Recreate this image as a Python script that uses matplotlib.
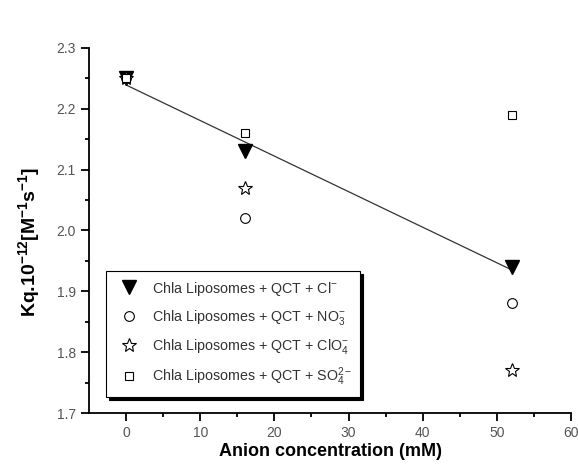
import matplotlib
matplotlib.use('Agg')
import matplotlib.pyplot as plt
import numpy as np

plt.rcParams['font.family'] = ['Liberation Sans', 'DejaVu Sans']
plt.rcParams['mathtext.fontset'] = 'custom'
plt.rcParams['mathtext.rm'] = 'Liberation Sans'
plt.rcParams['mathtext.it'] = 'Liberation Sans'
plt.rcParams['mathtext.bf'] = 'Liberation Sans:bold'

conc = [0, 16, 52]
kq_cl = [2.25, 2.13, 1.94]
kq_no3 = [2.25, 2.02, 1.88]
kq_clo4 = [2.25, 2.07, 1.77]
kq_so4 = [2.25, 2.16, 2.19]

labels = ['Chla Liposomes + QCT + Cl$^{-}$',
          'Chla Liposomes + QCT + NO$_{3}^{-}$',
          'Chla Liposomes + QCT + ClO$_{4}^{-}$',
          'Chla Liposomes + QCT + SO$_{4}^{2-}$']

fig = plt.figure(figsize=(5.78, 4.68), dpi=100)
ax = fig.add_axes([0.154, 0.1175, 0.834, 0.78])

ax.plot(conc, kq_cl, 'v', color='black', ms=10, label=labels[0], zorder=3)
ax.plot(conc, kq_no3, 'o', mfc='white', mec='black', mew=0.8, ms=7, label=labels[1], zorder=3)
ax.plot(conc, kq_clo4, '*', mfc='white', mec='black', mew=0.8, ms=10, label=labels[2], zorder=3)
ax.plot(conc, kq_so4, 's', mfc='white', mec='black', mew=0.8, ms=6, label=labels[3], zorder=3)

# linear fit of the Cl- series
p = np.polyfit(conc, kq_cl, 1)
xs = np.array([conc[0], conc[-1]])
ax.plot(xs, np.polyval(p, xs), color='#333333', lw=0.9, zorder=2)

ax.set_xlim(-5, 60)
ax.set_ylim(1.7, 2.3)
ax.set_xticks(np.arange(0, 61, 10))
ax.set_xticks(np.arange(5, 60, 10), minor=True)
ax.set_yticks(np.arange(1.7, 2.31, 0.1))
ax.set_yticks(np.arange(1.75, 2.3, 0.1), minor=True)
ax.set_yticklabels(['1.7', '1.8', '1.9', '2.0', '2.1', '2.2', '2.3'])

for s in ['top', 'right']:
    ax.spines[s].set_visible(False)
for s in ['left', 'bottom']:
    ax.spines[s].set_linewidth(1.3)

ax.tick_params(which='major', direction='out', length=6, width=1.3, labelsize=10, labelcolor='#555555')
ax.tick_params(which='minor', direction='out', length=3, width=1.3)

ax.set_xlabel('Anion concentration (mM)', fontsize=13, fontweight='bold', labelpad=2)
ax.set_ylabel(r'Kq.10$^{\mathbf{-12}}$[M$^{\mathbf{-1}}$s$^{\mathbf{-1}}$]', fontsize=14,
              fontweight='bold')
ax.yaxis.set_label_coords(-0.098, 0.47)

leg = ax.legend(loc='lower left', bbox_to_anchor=(0.02, 0.025), fontsize=10.3,
                frameon=True, fancybox=False, shadow={'color': 'black', 'alpha': 1},
                edgecolor='black', labelspacing=0.7, handletextpad=0.6,
                borderpad=0.6, labelcolor='#333333')
leg.get_frame().set_linewidth(0.8)

fig.savefig('out.png', dpi=100)
